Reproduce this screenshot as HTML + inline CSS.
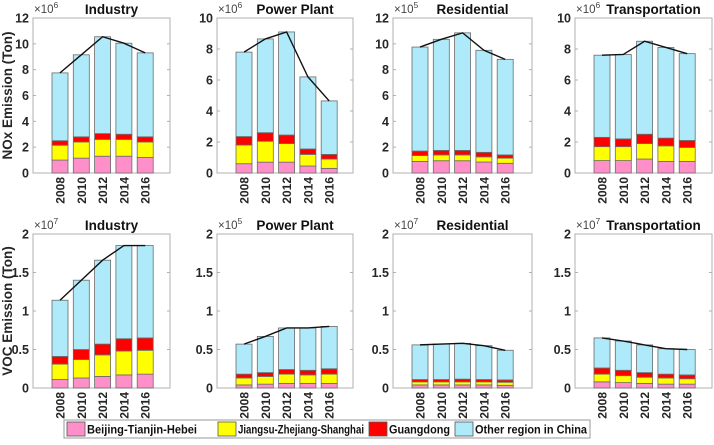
<!DOCTYPE html>
<html><head><meta charset="utf-8"><style>
body{margin:0;background:#fff;width:714px;height:440px;overflow:hidden;font-family:"Liberation Sans",Arial,sans-serif}
</style></head><body>
<svg id="chart" width="714" height="440" xmlns="http://www.w3.org/2000/svg" font-family="Liberation Sans, Arial, sans-serif"></svg>
<script>
// ---- data ----
const years = ["2008","2010","2012","2014","2016"];
const regions = ["Beijing-Tianjin-Hebei","Jiangsu-Zhejiang-Shanghai","Guangdong","Other region in China"];
const titles = ["Industry","Power Plant","Residential","Transportation"];
const noxExp = ["6","6","5","6"];
const vocExp = ["7","5","7","7"];
const noxMax = [12,10,12,10];
const vocMax = [2,2,2,2];
const noxTicks = [[0,2,4,6,8,10,12],[0,2,4,6,8,10],[0,2,4,6,8,10,12],[0,2,4,6,8,10]];
const vocTicks = [0,0.5,1,1.5,2];
const vocTickLabels = ["0","0.5","1","1.5","2"];
// stacked tops: [BTH, +JZS, +GD, total]
const noxIndustry = [[1.0,2.15,2.5,7.75],[1.15,2.4,2.8,9.15],[1.3,2.6,3.05,10.55],[1.3,2.6,3.0,10.05],[1.2,2.4,2.8,9.3]];
const noxPower = [[0.6,1.8,2.35,7.8],[0.7,2.05,2.6,8.65],[0.7,1.9,2.45,9.1],[0.45,1.2,1.55,6.2],[0.3,0.9,1.2,4.65]];
const noxResidential = [[0.9,1.35,1.7,9.75],[0.95,1.4,1.75,10.35],[0.95,1.4,1.75,10.85],[0.85,1.25,1.6,9.5],[0.75,1.15,1.4,8.8]];
const noxTransport = [[0.8,1.7,2.3,7.6],[0.8,1.7,2.2,7.65],[0.9,1.9,2.5,8.5],[0.75,1.75,2.25,8.1],[0.75,1.65,2.1,7.7]];
const vocIndustry = [[0.11,0.31,0.41,1.14],[0.13,0.37,0.50,1.40],[0.15,0.43,0.57,1.66],[0.17,0.48,0.64,1.85],[0.18,0.49,0.65,1.85]];
const vocPower = [[0.04,0.13,0.18,0.57],[0.05,0.15,0.20,0.67],[0.06,0.18,0.24,0.78],[0.06,0.17,0.23,0.78],[0.06,0.18,0.25,0.80]];
const vocResidential = [[0.04,0.08,0.11,0.56],[0.04,0.08,0.11,0.57],[0.04,0.08,0.115,0.58],[0.04,0.08,0.11,0.55],[0.035,0.075,0.105,0.49]];
const vocTransport = [[0.08,0.18,0.26,0.65],[0.07,0.16,0.23,0.61],[0.06,0.14,0.20,0.56],[0.05,0.13,0.18,0.51],[0.05,0.12,0.17,0.50]];

const colors = ["#ff8fc8","#ffff00","#ff0000","#aeeaf9"];
const svg = document.getElementById('chart');
const NS = "http://www.w3.org/2000/svg";
function mk(tag, attrs, parent, text){const e=document.createElementNS(NS,tag);for(const k in attrs)e.setAttribute(k,attrs[k]);if(text!==undefined)e.textContent=text;(parent||svg).appendChild(e);return e;}

const panelX = [[33,170],[217,353],[393,532],[575,712]];
const rows = [
 {top:18,bottom:173,data:[noxIndustry,noxPower,noxResidential,noxTransport],max:noxMax,exps:noxExp,ylabel:"NOx Emission (Ton)",key:"nox"},
 {top:234,bottom:388,data:[vocIndustry,vocPower,vocResidential,vocTransport],max:vocMax,exps:vocExp,ylabel:"VOC Emission (Ton)",key:"voc"}
];

rows.forEach((row,ri)=>{
  const cy=(row.top+row.bottom)/2;
  const yl = mk('text',{x:12,y:cy,'font-size':13.5,'font-weight':'bold',fill:'#262626','text-anchor':'middle',transform:`rotate(-90 12 ${cy})`},svg,row.ylabel);
  
  
  for(let p=0;p<4;p++){
    const [x0,x1]=panelX[p];
    const g=mk('g',{});
    
    
    const max=row.max[p];
    const ys=v=>row.bottom-(v/max)*(row.bottom-row.top);
    const xs=i=>x0+27+i*21.3;
    const bw=16;
    mk('rect',{x:x0,y:row.top,width:x1-x0,height:row.bottom-row.top,fill:'#fff',stroke:'#b0b0b0','stroke-width':1},g);
    const ticks = ri===0?noxTicks[p]:vocTicks;
    ticks.forEach((t,ti)=>{
      const y=ys(t);
      mk('line',{x1:x0,x2:x0+3,y1:y,y2:y,stroke:'#b0b0b0'},g);
      mk('line',{x1:x1,x2:x1-3,y1:y,y2:y,stroke:'#b0b0b0'},g);
      const lab=ri===0?String(t):vocTickLabels[ti];
      const tl=mk('text',{x:x0-4,y:y+4.5,'font-size':12.5,'font-weight':'bold',fill:'#262626','text-anchor':'end'},g,lab);
      
      
    });
    const d=row.data[p];
    d.forEach((tops,i)=>{
      let prev=0;
      tops.forEach((t,s)=>{
        const r=mk('rect',{x:xs(i)-bw/2,y:ys(t),width:bw,height:Math.max(0,ys(prev)-ys(t)),fill:colors[s],stroke:'#6b6b6b','stroke-width':0.8},g);
        
        
        prev=t;
      });
      const xt=mk('text',{x:0,y:0,'font-size':12,'font-weight':'bold',fill:'#262626','text-anchor':'end',transform:`translate(${xs(i)+4.5},${row.bottom+4}) rotate(-90)`},g,years[i]);
      
      
    });
    const pts=d.map((tops,i)=>xs(i)+','+ys(tops[3])).join(' ');
    const ln=mk('polyline',{points:pts,fill:'none',stroke:'#111','stroke-width':1.4},g);
    
    
    const tt=mk('text',{x:(x0+x1)/2+10,y:row.top-4,'font-size':13.5,'font-weight':'bold',fill:'#111','text-anchor':'middle'},g,titles[p]);
    
    
    const ex=mk('text',{x:x0+1,y:row.top-5,'font-size':11.5,fill:'#444'},g);
    
    
    ex.appendChild(document.createTextNode('\u00d710'));
    mk('tspan',{'font-size':8.5,dy:-5},ex,row.exps[p]);
  }
});

// legend
const lg=mk('g',{});


mk('rect',{x:64,y:420,width:526,height:18,fill:'#fff',stroke:'#9a9a9a'},lg);
const lx=[67,218,369,455];
const lw=[110,126,61,112];
regions.forEach((r,i)=>{
  const e=mk('g',{},lg);
  
  
  mk('rect',{x:lx[i],y:422,width:18,height:14,fill:colors[i],stroke:'#555','stroke-width':0.8},e);
  mk('text',{x:lx[i]+20,y:433.5,'font-size':12,'font-weight':'bold',fill:'#111',textLength:lw[i],lengthAdjust:'spacingAndGlyphs'},e,r);
});
</script>
</body></html>
